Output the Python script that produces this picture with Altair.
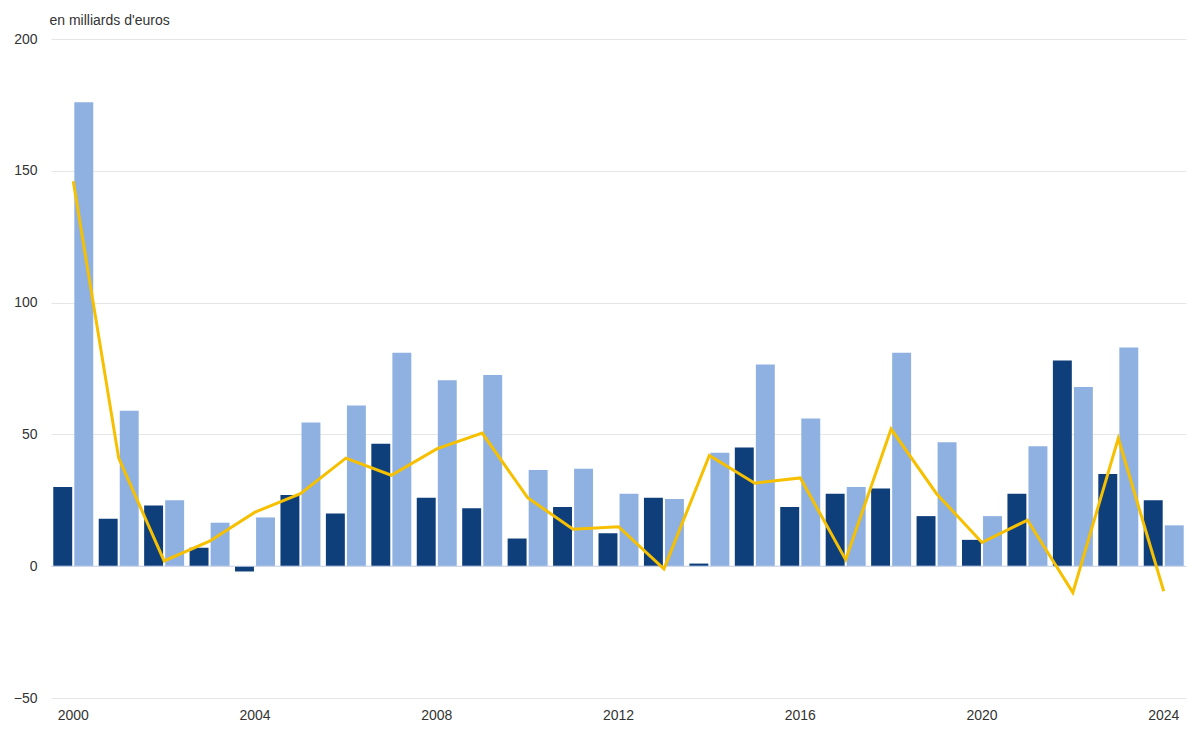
import altair as alt
import pandas as pd

years = list(range(2000, 2025))
etr_en_france = [30, 18, 23, 7, -2, 27, 20, 46.5, 26, 22, 10.5, 22.5, 12.5, 26, 1,
                 45, 22.5, 27.5, 29.5, 19, 10, 27.5, 78, 35, 25]
fr_a_etranger = [176, 59, 25, 16.5, 18.5, 54.5, 61, 81, 70.5, 72.5, 36.5, 37, 27.5, 25.5, 43,
                 76.5, 56, 30, 81, 47, 19, 45.5, 68, 83, 15.5]
solde_net = [146, 41, 2, 9.5, 20.5, 27.5, 41, 34.5, 44.5, 50.5, 26, 14, 15, -1, 42,
             31.5, 33.5, 2.5, 52, 27.5, 9, 17.5, -10, 48.5, -9.5]

s_fr = "Investissements français à l'étranger"
s_etr = "Investissements étrangers en France"
s_net = "Solde net des investissements directs"

bars = pd.DataFrame(
    [{"annee": str(y), "serie": s_etr, "ordre": 0, "valeur": v} for y, v in zip(years, etr_en_france)]
    + [{"annee": str(y), "serie": s_fr, "ordre": 1, "valeur": v} for y, v in zip(years, fr_a_etranger)]
)
line = pd.DataFrame({"annee": [str(y) for y in years], "valeur": solde_net, "serie": s_net})

x = alt.X(
    "annee:O",
    title=None,
    scale=alt.Scale(paddingInner=0.12, paddingOuter=0.05),
    axis=alt.Axis(labelAngle=0, labelExpr="datum.value % 4 == 0 ? datum.value : ''",
                  ticks=False, domain=False, labelFontSize=14, labelColor="#333", labelPadding=10),
)
y = alt.Y(
    "valeur:Q",
    scale=alt.Scale(domain=[-50, 200], nice=False),
    axis=alt.Axis(values=[-50, 0, 50, 100, 150, 200], title="en milliards d'euros",
                  titleAngle=0, titleAlign="left", titleBaseline="bottom", titleX=-2, titleY=-12,
                  titleFontWeight="normal", titleFontSize=14, titleColor="#333",
                  labelFontSize=14, labelColor="#333", domain=False, ticks=False,
                  gridColor="#e6e6e6", labelPadding=14),
)

bar_layer = alt.Chart(bars).mark_bar().encode(
    x=x,
    y=y,
    xOffset=alt.XOffset("ordre:O", scale=alt.Scale(paddingInner=0.1)),
    color=alt.Color("serie:N", title=None,
                    scale=alt.Scale(domain=[s_fr, s_etr], range=["#8fb1e1", "#0e3f7b"]),
                    legend=alt.Legend(orient="none", direction="horizontal", legendX=118, legendY=-72,
                                      symbolType="square", labelFontSize=14, columnPadding=16,
                                      labelColor="#333", symbolSize=200, labelLimit=400)),
)

zero = alt.Chart(pd.DataFrame({"v": [0]})).mark_rule(color="#ccd6eb").encode(y="v:Q")

line_layer = alt.Chart(line).mark_line(strokeWidth=3).encode(
    x=x,
    y=y,
    stroke=alt.Stroke("serie:N", title=None,
                      scale=alt.Scale(domain=[s_net], range=["#f6c000"]),
                      legend=alt.Legend(orient="none", direction="horizontal", legendX=700, legendY=-72,
                                        symbolType="stroke", labelFontSize=14,
                                        labelColor="#333", symbolStrokeWidth=3, labelLimit=400)),
)

chart = (
    alt.layer(bar_layer, zero, line_layer)
    .resolve_scale(color="independent", stroke="independent")
    .properties(width=1184, height=719, autosize=alt.AutoSizeParams(type="fit", contains="padding"))
    .configure(font="Liberation Sans")
    .configure_view(stroke=None)
)

chart.save("out.html", embed_options={"renderer": "svg", "actions": False})
